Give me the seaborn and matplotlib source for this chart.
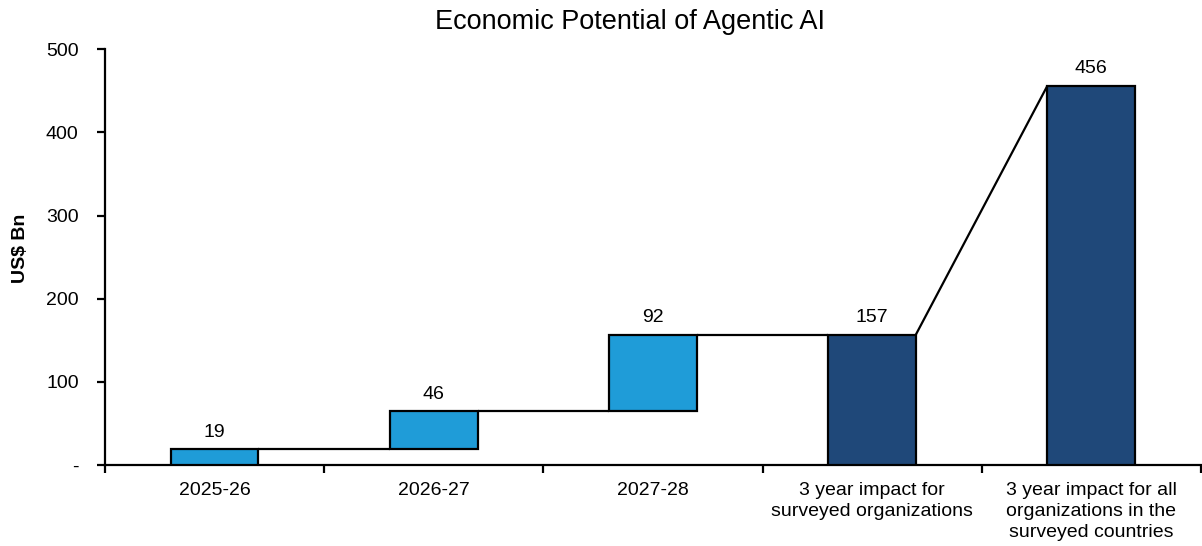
import matplotlib
matplotlib.use("Agg")
import matplotlib.pyplot as plt
import seaborn as sns
import numpy as np

# Waterfall data (US$ Bn)
categories = [
    "2025-26",
    "2026-27",
    "2027-28",
    "3 year impact for\nsurveyed organizations",
    "3 year impact for all\norganizations in the\nsurveyed countries",
]
values = [19, 46, 92, 157, 456]
kinds = ["step", "step", "step", "total", "total"]
ytick_values = [0, 100, 200, 300, 400, 500]
ytick_labels = ["-", "100", "200", "300", "400", "500"]

STEP_COLOR = "#1F9CD8"
TOTAL_COLOR = "#1F4879"

sns.set_theme(style="white")
plt.rcParams["font.family"] = ["Liberation Sans", "DejaVu Sans"]
plt.rcParams["text.color"] = "black"
plt.rcParams["axes.labelcolor"] = "black"
plt.rcParams["xtick.color"] = "black"
plt.rcParams["ytick.color"] = "black"

# Bar bottoms: steps stack on the running total, totals start at zero
bottoms, running = [], 0
for v, k in zip(values, kinds):
    if k == "step":
        bottoms.append(running)
        running += v
    else:
        bottoms.append(0)

fig = plt.figure(figsize=(12.02, 5.46), dpi=100)
ax = fig.add_axes([0.0874, 0.148, 0.9116, 0.762])

step_idx = [i for i, k in enumerate(kinds) if k == "step"]
total_idx = [i for i, k in enumerate(kinds) if k == "total"]

for idx, color in ((step_idx, STEP_COLOR), (total_idx, TOTAL_COLOR)):
    sns.barplot(
        x=[categories[i] for i in idx],
        y=[values[i] for i in idx],
        bottom=[bottoms[i] for i in idx],
        order=categories,
        color=color,
        saturation=1,
        width=0.4,
        edgecolor="black",
        linewidth=1.6,
        ax=ax,
        zorder=3,
    )

# Connectors between consecutive bars
patches = sorted(ax.patches, key=lambda p: p.get_x())
for i in range(len(patches) - 1):
    p, q = patches[i], patches[i + 1]
    x0 = p.get_x() + p.get_width()
    y0 = p.get_y() + p.get_height()
    x1 = q.get_x()
    y1 = q.get_y() + q.get_height() if kinds[i + 1] == "total" else q.get_y()
    ax.plot([x0, x1], [y0, y1], color="black", lw=1.6, zorder=2,
            solid_capstyle="butt")

# Value labels above bars
for p, v in zip(patches, values):
    ax.annotate(f"{v}", (p.get_x() + p.get_width() / 2, p.get_y() + p.get_height()),
                xytext=(0, 6), textcoords="offset points",
                ha="center", va="bottom", fontsize=14, color="black")

ax.set_xlim(-0.5, len(categories) - 0.5)
ax.set_ylim(0, 500)
ax.set_yticks(ytick_values)
ax.set_yticklabels(ytick_labels, fontsize=14)

# Major x ticks at category boundaries, labels on minor ticks at centers
ax.set_xticks(np.arange(-0.5, len(categories), 1.0))
ax.set_xticklabels([])
ax.set_xticks(np.arange(len(categories)), minor=True)
ax.set_xticklabels(categories, minor=True, fontsize=14, linespacing=1.32)
ax.tick_params(axis="x", which="major", direction="out", length=6, width=1.6,
               color="black", bottom=True)
ax.tick_params(axis="x", which="minor", length=0, pad=12)
ax.tick_params(axis="y", direction="out", length=6, width=1.6, color="black",
               left=True, pad=13)

ax.set_xlabel("")
ax.set_ylabel("US$ Bn", fontsize=14, fontweight="bold")
ax.yaxis.set_label_coords(-0.0694, 0.522)

for side in ("top", "right"):
    ax.spines[side].set_visible(False)
for side in ("left", "bottom"):
    ax.spines[side].set_color("black")
    ax.spines[side].set_linewidth(1.6)

fig.text(630 / 1202, 1 - 22 / 546, "Economic Potential of Agentic AI",
         ha="center", va="center", fontsize=19.5, color="black")

fig.savefig("out.png", dpi=100)
